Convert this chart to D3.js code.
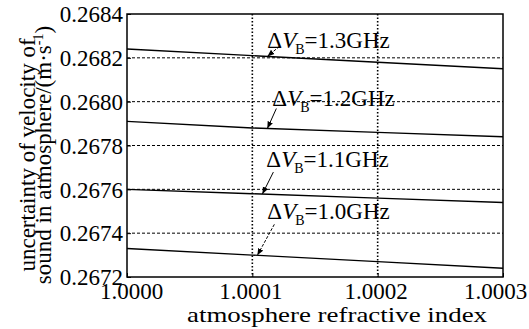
<!DOCTYPE html>
<html>
<head>
<meta charset="utf-8">
<script src="https://cdn.jsdelivr.net/npm/d3@7"></script>
<style>
  body { margin: 0; background: #fff; }
  text { font-family: "Liberation Serif", "Times New Roman", serif; fill: #000; }
</style>
</head>
<body>
<svg id="chart" width="529" height="329"></svg>
<script>
// chart values
var xValues = [1.0000, 1.0001, 1.0002, 1.0003];
var xTicks = [1.0000, 1.0001, 1.0002, 1.0003];
var yTicks = [0.2672, 0.2674, 0.2676, 0.2678, 0.2680, 0.2682, 0.2684];
var seriesNames = ["1.3", "1.2", "1.1", "1.0"];
var series13 = [0.26824, 0.26821, 0.26818, 0.26815];
var series12 = [0.26791, 0.26788, 0.26786, 0.26784];
var series11 = [0.26760, 0.26758, 0.26756, 0.26754];
var series10 = [0.26733, 0.26730, 0.26727, 0.26724];
var seriesValues = [series13, series12, series11, series10];
// where each arrow touches its line (x in data units)
var arrowTipX = [1.000112, 1.000112, 1.000108, 1.000104];

var svg = d3.select("#chart");
var margin = { left: 127, top: 14, right: 26, bottom: 52 };
var width = 529 - margin.left - margin.right;
var height = 329 - margin.top - margin.bottom;

var x = d3.scaleLinear().domain([1.0000, 1.0003]).range([0, width]);
var y = d3.scaleLinear().domain([0.2672, 0.2684]).range([height, 0]);

var g = svg.append("g").attr("transform", "translate(" + margin.left + "," + margin.top + ")");

// grid: dashed horizontals, dotted verticals
g.selectAll(".hgrid")
  .data(yTicks.slice(1, -1))
  .enter().append("line")
  .attr("x1", 0).attr("x2", width)
  .attr("y1", function(d) { return y(d); })
  .attr("y2", function(d) { return y(d); })
  .attr("stroke", "#000").attr("stroke-width", 1)
  .attr("stroke-dasharray", "3,2");

g.selectAll(".vgrid")
  .data(xTicks.slice(1, -1))
  .enter().append("line")
  .attr("y1", 0).attr("y2", height)
  .attr("x1", function(d) { return x(d); })
  .attr("x2", function(d) { return x(d); })
  .attr("stroke", "#000").attr("stroke-width", 1.6)
  .attr("stroke-dasharray", "1.5,2");

// axes
var xAxis = g.append("g").attr("transform", "translate(0," + height + ")")
  .call(d3.axisBottom(x).tickValues(xTicks).tickSize(-4).tickPadding(6)
    .tickFormat(d3.format(".4f")));
var yAxis = g.append("g")
  .call(d3.axisLeft(y).tickValues(yTicks).tickSize(-4).tickPadding(4)
    .tickFormat(d3.format(".4f")));

[xAxis, yAxis].forEach(function(a) {
  a.select(".domain").remove();
  a.selectAll("line").attr("stroke", "#000");
  a.selectAll("text").attr("font-family", "Liberation Serif").attr("font-size", 23).attr("fill", "#000");
});
yAxis.selectAll("text").attr("dy", "0.34em");
xAxis.selectAll("text").attr("dy", "0.68em")
  .attr("dx", function(d, i) { return i === 0 ? 4 : (i === xTicks.length - 1 ? -8 : -2); });

// frame
g.append("rect").attr("width", width).attr("height", height)
  .attr("fill", "none").attr("stroke", "#000").attr("stroke-width", 1.5);

// lines
var line = d3.line()
  .x(function(d, i) { return x(xValues[i]); })
  .y(function(d) { return y(d); });

g.selectAll(".series")
  .data(seriesValues)
  .enter().append("path")
  .attr("d", line)
  .attr("fill", "none").attr("stroke", "#000").attr("stroke-width", 1.4);

// annotations
svg.append("defs").append("marker")
  .attr("id", "head").attr("viewBox", "0 0 10 10")
  .attr("refX", 10).attr("refY", 5)
  .attr("markerWidth", 7).attr("markerHeight", 7)
  .attr("orient", "auto")
  .append("path").attr("d", "M0,1 L10,5 L0,9 Z").attr("fill", "#000");

var labelOffset = [[0, -8], [5, -22], [4, -27], [10, -36]];
var tailOffset = [[12, -10], [9, -20], [11, -22], [17, -31]];

seriesValues.forEach(function(vals, i) {
  var tx = arrowTipX[i];
  var ty = d3.scaleLinear().domain(xValues).range(vals)(tx);
  var px = x(tx), py = y(ty);
  g.append("line")
    .attr("x1", px + tailOffset[i][0]).attr("y1", py + tailOffset[i][1])
    .attr("x2", px).attr("y2", py)
    .attr("stroke", "#000").attr("stroke-width", 1)
    .attr("stroke-dasharray", i === 1 || i === 2 ? null : "3,1.5")
    .attr("marker-end", "url(#head)");

  var t = g.append("text")
    .attr("x", px + labelOffset[i][0]).attr("y", py + labelOffset[i][1])
    .attr("font-size", 23);
  t.append("tspan").text("\u0394");
  t.append("tspan").attr("font-style", "italic").text("V");
  t.append("tspan").attr("font-size", 14).attr("dy", 6).attr("dx", -1).text("B");
  t.append("tspan").attr("dy", -6).text("=" + seriesNames[i] + "GHz");
});

// axis titles
svg.append("text")
  .attr("x", 337).attr("y", 322)
  .attr("text-anchor", "middle").attr("font-size", 22)
  .attr("textLength", 300).attr("lengthAdjust", "spacingAndGlyphs")
  .text("atmosphere refractive index");

var yt = svg.append("text")
  .attr("transform", "translate(35,155) rotate(-90)")
  .attr("text-anchor", "middle").attr("font-size", 23);
yt.append("tspan").attr("x", 0).attr("y", 0).text("uncertainty of  velocity of");
var l2 = yt.append("tspan").attr("x", 0).attr("y", 0).attr("dy", 16);
l2.append("tspan").text("sound in atmosphere/(m\u00b7s");
l2.append("tspan").attr("font-size", 14).attr("dy", -8).text("-1");
l2.append("tspan").attr("dy", 8).text(")");
</script>
</body>
</html>
